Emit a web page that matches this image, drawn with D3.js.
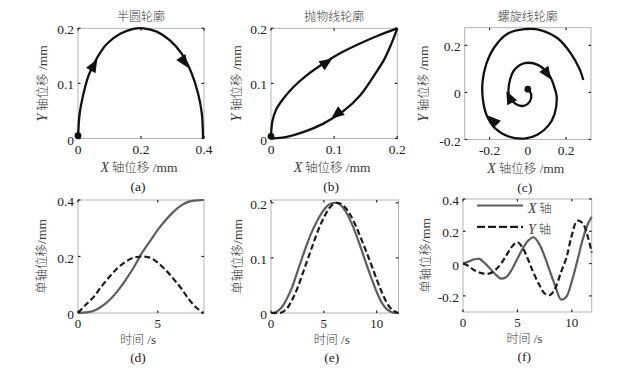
<!DOCTYPE html>
<html>
<head>
<meta charset="utf-8">
<script src="https://cdn.jsdelivr.net/npm/d3@7"></script>
<style>
  body { margin: 0; background: #fff; }
</style>
</head>
<body>
<script>
// ---------------------------------------------------------------
//  DATA
// ---------------------------------------------------------------

// (a) semicircle profile, X / Y displacement in mm
var semiX = [0, 0.005, 0.016, 0.034, 0.06, 0.092, 0.134, 0.176, 0.208, 0.25, 0.292, 0.329, 0.361, 0.381, 0.393, 0.397];
var semiY = [0, 0.044, 0.078, 0.115, 0.146, 0.172, 0.19, 0.199, 0.2, 0.194, 0.178, 0.154, 0.118, 0.082, 0.046, 0];
var semiStart = [0, 0.005];
var semiArrows = [[0.05, 0.133], [0.337, 0.139]];

// (b) parabola profile, outgoing (upper) and return (lower) branch
var parUpX = [0, 0.002, 0.008, 0.02, 0.036, 0.057, 0.083, 0.11, 0.14, 0.17, 0.2];
var parUpY = [0, 0.03, 0.052, 0.073, 0.094, 0.115, 0.136, 0.155, 0.172, 0.187, 0.2];
var parLowX = [0.2, 0.191, 0.18, 0.167, 0.141, 0.115, 0.083, 0.052, 0.025, 0.009, 0];
var parLowY = [0.2, 0.173, 0.145, 0.121, 0.078, 0.05, 0.027, 0.012, 0.003, 0.0005, 0];
var parStart = [0, 0.004];
var parArrows = [[0.088, 0.138], [0.104, 0.044]];

// (c) spiral profile
var spiralX = [0, 0.017, 0.009, -0.021, -0.061, -0.096, -0.101, -0.092, -0.07, -0.017, 0.052, 0.113, 0.144, 0.151, 0.139, 0.108, 0.052, -0.017, -0.104, -0.174, -0.217, -0.235, -0.237, -0.217, -0.174, -0.104, -0.017, 0.07, 0.157, 0.226, 0.27, 0.29];
var spiralY = [0.014, -0.007, -0.04, -0.057, -0.05, -0.021, 0.014, 0.057, 0.096, 0.124, 0.117, 0.071, 0.007, -0.021, -0.093, -0.14, -0.179, -0.196, -0.186, -0.15, -0.093, -0.029, 0.043, 0.121, 0.193, 0.25, 0.269, 0.264, 0.229, 0.164, 0.1, 0.053];
var spiralStart = [0, 0.014];
var spiralArrows = [[0.101, 0.079], [-0.096, -0.021], [-0.183, -0.119]];

// (d) single-axis displacement vs time, semicircle
var dT = [0, 0.5, 1, 1.5, 2, 2.5, 3, 3.5, 4, 4.5, 5, 5.5, 6, 6.5, 7, 7.5, 7.85];
var dX = [0, 0.002, 0.008, 0.024, 0.047, 0.079, 0.118, 0.162, 0.212, 0.253, 0.294, 0.329, 0.359, 0.382, 0.395, 0.399, 0.4];
var dY = [0, 0.03, 0.058, 0.096, 0.13, 0.16, 0.182, 0.196, 0.2, 0.196, 0.178, 0.152, 0.12, 0.085, 0.045, 0.015, 0];

// (e) single-axis displacement vs time, parabola
var eT = [0, 0.5, 1, 1.5, 2, 2.5, 3, 3.5, 4, 4.5, 5, 5.5, 6, 6.5, 7, 7.5, 8, 8.5, 9, 9.5, 10, 10.5, 11, 11.5, 12.06];
var eX = [0, 0.002, 0.01, 0.026, 0.047, 0.075, 0.103, 0.13, 0.153, 0.172, 0.187, 0.197, 0.2, 0.197, 0.186, 0.168, 0.145, 0.118, 0.09, 0.063, 0.038, 0.018, 0.006, 0.001, 0];
var eY = [0, 0, 0.001, 0.008, 0.024, 0.045, 0.072, 0.099, 0.126, 0.152, 0.173, 0.19, 0.199, 0.199, 0.192, 0.178, 0.159, 0.136, 0.112, 0.087, 0.061, 0.037, 0.017, 0.005, 0];

// (f) single-axis displacement vs time, spiral
var fT = [0, 0.5, 1, 1.5, 2, 2.5, 3, 3.5, 4, 4.5, 5, 5.5, 6, 6.5, 7, 7.5, 8, 8.5, 9, 9.5, 10, 10.5, 11, 11.5, 11.83];
var fX = [0, 0.012, 0.026, 0.029, 0.003, -0.032, -0.068, -0.093, -0.083, -0.035, 0.03, 0.095, 0.143, 0.163, 0.122, 0.045, -0.05, -0.142, -0.222, -0.205, -0.11, 0.015, 0.148, 0.248, 0.29];
var fY = [0, -0.015, -0.04, -0.055, -0.063, -0.06, -0.038, 0, 0.052, 0.105, 0.132, 0.095, 0.022, -0.06, -0.13, -0.185, -0.195, -0.15, -0.055, 0.035, 0.175, 0.265, 0.25, 0.16, 0.068];

// titles, sub-figure tags and tick values
var titles = ["半圆轮廓", "抛物线轮廓", "螺旋线轮廓"];
var tags = ["(a)", "(b)", "(c)", "(d)", "(e)", "(f)"];
var legendNames = ["X", "Y"];

var aXTicks = [0, 0.2, 0.4],   aYTicks = [0, 0.1, 0.2];
var bXTicks = [0, 0.1, 0.2],   bYTicks = [0, 0.1, 0.2];
var cXTicks = [-0.2, 0, 0.2],  cYTicks = [-0.2, 0, 0.2];
var dXTicks = [0, 5],          dYTicks = [0, 0.2, 0.4];
var eXTicks = [0, 5, 10],      eYTicks = [0, 0.1, 0.2];
var fXTicks = [0, 5, 10],      fYTicks = [-0.2, 0, 0.2, 0.4];

// ---------------------------------------------------------------
//  SETUP
// ---------------------------------------------------------------
var W = 624, H = 370;
var serif = "'Liberation Serif','Times New Roman',serif";
var cjk = "'Noto Sans CJK SC','Noto Sans',sans-serif";

var svg = d3.select("body").append("svg")
    .attr("width", W)
    .attr("height", H)
    .style("display", "block");

function zip(a, b) { return a.map(function(v, i) { return [v, b[i]]; }); }

// panel layout: box = [left, top, right, bottom] in px
var panels = [
  { box: [78, 28.3, 204, 138.5], xd: [0, 0.4], yd: [0, 0.2], xt: aXTicks, yt: aYTicks, ylOff: 35.5, kind: "xy" },
  { box: [271, 28.3, 397.3, 138.5], xd: [0, 0.2], yd: [0, 0.2], xt: bXTicks, yt: bYTicks, ylOff: 34.5, kind: "xy" },
  { box: [464.7, 27.7, 591, 139.5], xd: [-0.33, 0.33], yd: [-0.2, 0.275], xt: cXTicks, yt: cYTicks, ylOff: 41.5, kind: "xy" },
  { box: [78, 200, 204, 313], xd: [0, 7.9], yd: [0, 0.4], xt: dXTicks, yt: dYTicks, ylOff: 36, kind: "t" },
  { box: [271, 200, 398.5, 313], xd: [0, 12.06], yd: [0, 0.205], xt: eXTicks, yt: eYTicks, ylOff: 33, kind: "t" },
  { box: [463, 199, 591.7, 312], xd: [0, 11.83], yd: [-0.3, 0.4], xt: fXTicks, yt: fYTicks, ylOff: 37.5, kind: "t" }
];

var curves = [
  { paths: [zip(semiX, semiY)], start: semiStart, arrows: semiArrows },
  { paths: [zip(parUpX, parUpY), zip(parLowX, parLowY)], start: parStart, arrows: parArrows },
  { paths: [zip(spiralX, spiralY)], start: spiralStart, arrows: spiralArrows },
  { x: zip(dT, dX), y: zip(dT, dY) },
  { x: zip(eT, eX), y: zip(eT, eY) },
  { x: zip(fT, fX), y: zip(fT, fY), legend: true }
];

// ---------------------------------------------------------------
//  DRAW
// ---------------------------------------------------------------
panels.forEach(function(p, i) {
  var L = p.box[0], T = p.box[1], R = p.box[2], B = p.box[3];
  var cx = (L + R) / 2, cy = (T + B) / 2;
  var x = d3.scaleLinear().domain(p.xd).range([L, R]);
  var y = d3.scaleLinear().domain(p.yd).range([B, T]);
  var g = svg.append("g");
  var timeRow = p.kind === "t";

  // frame
  g.append("rect")
    .attr("x", L).attr("y", T)
    .attr("width", R - L).attr("height", B - T)
    .attr("fill", "none")
    .attr("stroke", "#b4b4b4")
    .attr("stroke-width", 1);

  // inward ticks on all four sides
  var tk = 2.5;
  p.xt.forEach(function(v) {
    g.append("line").attr("x1", x(v)).attr("x2", x(v)).attr("y1", B).attr("y2", B - tk)
      .attr("stroke", "#222").attr("stroke-width", 1.2);
    g.append("line").attr("x1", x(v)).attr("x2", x(v)).attr("y1", T).attr("y2", T + tk)
      .attr("stroke", "#222").attr("stroke-width", 1.2);
  });
  p.yt.forEach(function(v) {
    g.append("line").attr("x1", L).attr("x2", L + tk).attr("y1", y(v)).attr("y2", y(v))
      .attr("stroke", "#222").attr("stroke-width", 1.2);
    g.append("line").attr("x1", R).attr("x2", R - tk).attr("y1", y(v)).attr("y2", y(v))
      .attr("stroke", "#222").attr("stroke-width", 1.2);
  });

  // tick labels
  g.selectAll(".xtl").data(p.xt).join("text")
    .attr("x", function(d) { return x(d); })
    .attr("y", B + (timeRow ? 14.5 : 15.5))
    .attr("text-anchor", "middle")
    .attr("font-family", serif).attr("font-size", timeRow ? 13 : 13.5).attr("fill", "#222")
    .text(function(d) { return String(d); });
  g.selectAll(".ytl").data(p.yt).join("text")
    .attr("x", L - 4)
    .attr("y", function(d) { return y(d) + 6; })
    .attr("text-anchor", "end")
    .attr("font-family", serif).attr("font-size", 13.5).attr("fill", "#222")
    .text(function(d) { return String(d); });

  var line = d3.line()
    .x(function(d) { return x(d[0]); })
    .y(function(d) { return y(d[1]); })
    .curve(d3.curveCatmullRom.alpha(0.5));

  var c = curves[i];
  if (!timeRow) {
    // title
    g.append("text").attr("x", cx).attr("y", 20.5)
      .attr("text-anchor", "middle")
      .attr("font-family", cjk).attr("font-weight", 300).attr("font-size", 12).attr("fill", "#3a3a3a")
      .text(titles[i]);

    // x label
    var xl = g.append("text").attr("x", cx - 2).attr("y", B + 33.5)
      .attr("text-anchor", "middle").attr("fill", "#3a3a3a").attr("font-size", 12.5);
    xl.append("tspan").attr("font-family", serif).attr("font-style", "italic").attr("font-size", 14).text("X");
    xl.append("tspan").attr("font-family", cjk).attr("font-weight", 300).text(" 轴位移");
    xl.append("tspan").attr("font-family", serif).attr("font-size", 13.5).text(" /mm");

    // y label
    var yl = g.append("text")
      .attr("transform", "translate(" + (L - p.ylOff) + "," + cy + ") rotate(-90)")
      .attr("text-anchor", "middle").attr("dy", "0.35em").attr("fill", "#3a3a3a").attr("font-size", 12.5);
    yl.append("tspan").attr("font-family", serif).attr("font-style", "italic").attr("font-size", 14).text("Y");
    yl.append("tspan").attr("font-family", cjk).attr("font-weight", 300).text(" 轴位移");
    yl.append("tspan").attr("font-family", serif).attr("font-size", 13.5).text(" /mm");

    // tag
    g.append("text").attr("x", cx - 3).attr("y", B + 52)
      .attr("text-anchor", "middle")
      .attr("font-family", serif).attr("font-size", 13.5).attr("fill", "#222")
      .text(tags[i]);

    // profile path
    var allPts = [];
    c.paths.forEach(function(pts) {
      allPts = allPts.concat(pts);
      g.append("path").attr("d", line(pts))
        .attr("fill", "none").attr("stroke", "#111")
        .attr("stroke-width", 2.3).attr("stroke-linejoin", "round");
    });

    // start marker
    g.append("circle")
      .attr("cx", x(c.start[0])).attr("cy", y(c.start[1]))
      .attr("r", 3.4).attr("fill", "#111");

    // direction arrows, oriented along the nearest path segment
    c.arrows.forEach(function(a) {
      var best = 1, bd = Infinity;
      for (var k = 1; k < allPts.length - 1; k++) {
        var dd = Math.pow(x(allPts[k][0]) - x(a[0]), 2) + Math.pow(y(allPts[k][1]) - y(a[1]), 2);
        if (dd < bd) { bd = dd; best = k; }
      }
      var p0 = allPts[best - 1], p1 = allPts[best + 1];
      var ang = Math.atan2(y(p1[1]) - y(p0[1]), x(p1[0]) - x(p0[0])) * 180 / Math.PI;
      g.append("path")
        .attr("d", "M7,0L-6,-5.5L-6,5.5Z")
        .attr("transform", "translate(" + x(a[0]) + "," + y(a[1]) + ") rotate(" + ang + ")")
        .attr("fill", "#111");
    });
  } else {
    // x label
    var xl2 = g.append("text").attr("x", cx - 3).attr("y", B + 31)
      .attr("text-anchor", "middle").attr("fill", "#3a3a3a").attr("font-size", 12);
    xl2.append("tspan").attr("font-family", cjk).attr("font-weight", 300).text("时间");
    xl2.append("tspan").attr("font-family", serif).attr("font-size", 13).text(" /s");

    // y label
    var yl2 = g.append("text")
      .attr("transform", "translate(" + (L - p.ylOff) + "," + cy + ") rotate(-90)")
      .attr("text-anchor", "middle").attr("dy", "0.35em").attr("fill", "#3a3a3a").attr("font-size", 12.5);
    yl2.append("tspan").attr("font-family", cjk).attr("font-weight", 300).text("单轴位移");
    yl2.append("tspan").attr("font-family", serif).attr("font-size", 13.5).text("/mm");

    // tag
    g.append("text").attr("x", cx - 3).attr("y", B + 48.5)
      .attr("text-anchor", "middle")
      .attr("font-family", serif).attr("font-size", 13.5).attr("fill", "#222")
      .text(tags[i]);

    // X axis (solid grey) and Y axis (dashed dark)
    g.append("path").attr("d", line(c.x))
      .attr("fill", "none").attr("stroke", "#5e5e5e").attr("stroke-width", 2.2);
    g.append("path").attr("d", line(c.y))
      .attr("fill", "none").attr("stroke", "#1c1c1c").attr("stroke-width", 2.2)
      .attr("stroke-dasharray", "6,3");

    if (c.legend) {
      legendNames.forEach(function(n, k) {
        var ly = T + 6.5 + k * 21.3;
        g.append("line")
          .attr("x1", L + 14).attr("x2", L + 60).attr("y1", ly).attr("y2", ly)
          .attr("stroke", k === 0 ? "#5e5e5e" : "#1c1c1c").attr("stroke-width", 2.2)
          .attr("stroke-dasharray", k === 0 ? null : "8,3");
        var lt = g.append("text").attr("x", L + 65).attr("y", ly + 7)
          .attr("fill", "#3a3a3a").attr("font-size", 12.5);
        lt.append("tspan").attr("font-family", serif).attr("font-style", "italic").attr("font-size", 14).text(n);
        lt.append("tspan").attr("font-family", cjk).attr("font-weight", 300).text(" 轴");
      });
    }
  }
});
</script>
</body>
</html>
